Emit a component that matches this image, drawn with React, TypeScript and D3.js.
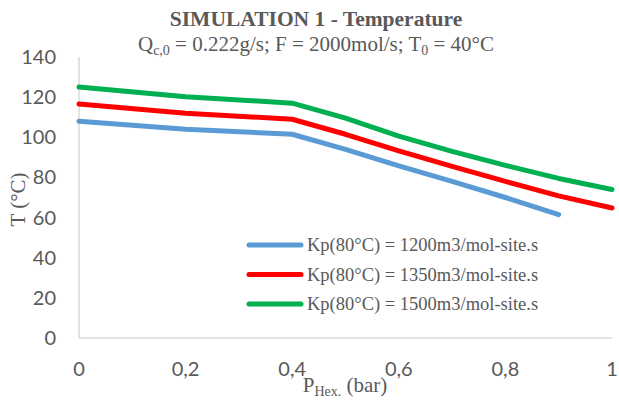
import React from "react";
import * as d3 from "d3";

const pressure = [0, 0.2, 0.4, 0.5, 0.6, 0.7, 0.8, 0.9, 1.0];
const kp1200 = [108, 104, 101.5, 94, 85.7, 78, 70, 61.5, null];
const kp1350 = [116.6, 112, 109, 101.5, 93.2, 85.5, 78, 70.8, 64.8];
const kp1500 = [125, 120.2, 117, 109.5, 100.6, 93, 86, 79.5, 74];
const seriesNames = [
  "Kp(80°C) = 1200m3/mol-site.s",
  "Kp(80°C) = 1350m3/mol-site.s",
  "Kp(80°C) = 1500m3/mol-site.s",
];
const seriesColors = ["#5B9BD5", "#FF0000", "#00B050"];
const xTicks = [0, 0.2, 0.4, 0.6, 0.8, 1];
const yTicks = [0, 20, 40, 60, 80, 100, 120, 140];

const W = 619;
const H = 402;
const left = 79;
const right = 612;
const top = 57;
const bottom = 338;

export default function App() {
  const x = d3.scaleLinear().domain([0, 1]).range([left, right]);
  const y = d3.scaleLinear().domain([0, 140]).range([bottom, top]);
  const all = [kp1200, kp1350, kp1500];
  const line = d3
    .line<[number, number | null]>()
    .defined((d) => d[1] !== null)
    .x((d) => x(d[0]))
    .y((d) => y(d[1] as number));
  const gray = "#595959";
  const serif = "'Liberation Serif', 'Times New Roman', serif";
  const sans = "Lato, 'Liberation Sans', sans-serif";
  return (
    <svg width={W} height={H} style={{ position: "absolute", left: 0, top: 0, background: "#fff" }}>
      <rect x={0} y={0} width={W} height={H} fill="#fff" />
      <text x={316} y={26} textAnchor="middle" fontFamily={serif} fontWeight="bold" fontSize={21.5} fill={gray}>
        SIMULATION 1 - Temperature
      </text>
      <text x={316} y={51} textAnchor="middle" fontFamily={serif} fontSize={21} fill={gray}>
        Q<tspan fontSize={14} dy={4}>c,0</tspan>
        <tspan dy={-4}> = 0.222g/s; F = 2000mol/s; T</tspan>
        <tspan fontSize={14} dy={4}>0</tspan>
        <tspan dy={-4}> = 40°C</tspan>
      </text>
      <line x1={left} x2={left} y1={top} y2={bottom} stroke="#D9D9D9" strokeWidth={1.5} />
      <line x1={left} x2={right} y1={bottom} y2={bottom} stroke="#D9D9D9" strokeWidth={1.5} />
      {yTicks.map((t) => (
        <text key={t} x={56} y={y(t) + 7} textAnchor="end" fontFamily={sans} fontSize={20} fill={gray}>
          {t}
        </text>
      ))}
      {xTicks.map((t) => (
        <text key={t} x={x(t)} y={376} textAnchor="middle" fontFamily={sans} fontSize={20} fill={gray}>
          {String(t).replace(".", ",")}
        </text>
      ))}
      <text
        transform={`translate(25, ${(top + bottom) / 2 + 2}) rotate(-90)`}
        textAnchor="middle"
        fontFamily={serif}
        fontSize={21}
        fill={gray}
      >
        T (°C)
      </text>
      <text x={345} y={392} textAnchor="middle" fontFamily={serif} fontSize={21} fill={gray}>
        P<tspan fontSize={14} dy={4}>Hex.</tspan>
        <tspan dy={-4}> (bar)</tspan>
      </text>
      {all.map((vals, i) => (
        <path
          key={i}
          d={line(pressure.map((p, j) => [p, vals[j]] as [number, number | null])) || ""}
          fill="none"
          stroke={seriesColors[i]}
          strokeWidth={5}
          strokeLinejoin="round"
          strokeLinecap="round"
        />
      ))}
      {seriesNames.map((n, i) => (
        <g key={n} transform={`translate(0, ${245 + i * 29.5})`}>
          <line x1={249} x2={301} y1={0} y2={0} stroke={seriesColors[i]} strokeWidth={5} strokeLinecap="round" />
          <text x={307} y={6} fontFamily={serif} fontSize={18.5} fill={gray}>
            {n}
          </text>
        </g>
      ))}
    </svg>
  );
}
